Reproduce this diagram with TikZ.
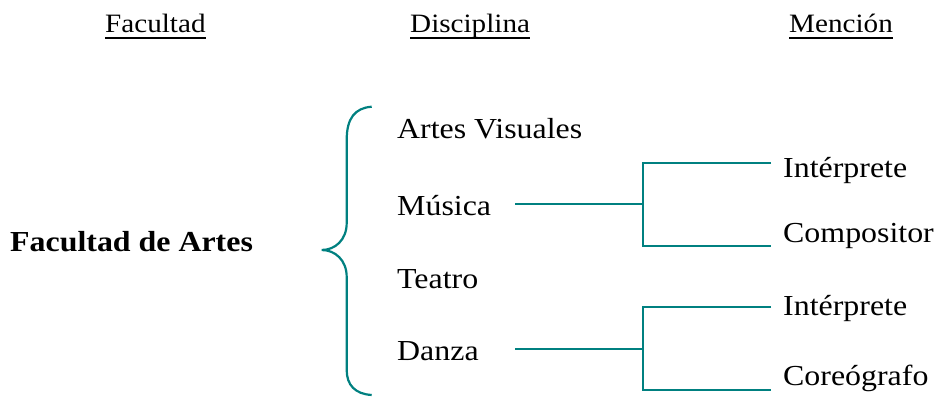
\documentclass[tikz,border=0pt]{standalone}
\usepackage{fontspec}
\setmainfont{Liberation Serif}[FakeStretch=1.1]
\definecolor{tealc}{RGB}{0,128,128}
\begin{document}
\begin{tikzpicture}[x=1pt,y=-1pt,
  lbl/.style={anchor=base west,inner sep=0pt,font=\fontsize{29}{34}\selectfont},
  hdr/.style={anchor=base west,inner sep=0pt,font=\fontsize{26.5}{31}\selectfont},
  conn/.style={draw=tealc,line width=2.6pt},
  brace/.style={draw=tealc,line width=2.2pt}]
\useasboundingbox (0,0) rectangle (938,404);
% headers
\node[hdr] (h1) at (105,33) {Facultad};
\node[hdr] (h2) at (410,33) {Disciplina};
\node[hdr] (h3) at (789,33) {Mención};
\foreach \h in {h1,h2,h3}
  \draw[line width=1.7pt] ([yshift=-5pt]\h.base west) -- ([yshift=-5pt]\h.base east);
% faculty
\node[lbl,font=\fontsize{29}{34}\selectfont\bfseries] (fac) at (10,251.5) {Facultad de Artes};
% disciplines
\node[lbl] (av) at (397,139) {Artes Visuales};
\node[lbl] (mus) at (397,215) {Música};
\node[lbl] (tea) at (397,288) {Teatro};
\node[lbl] (dan) at (397,360) {Danza};
% mentions
\node[lbl] (i1) at (783,177) {Intérprete};
\node[lbl] (co) at (783,242) {Compositor};
\node[lbl] (i2) at (783,315) {Intérprete};
\node[lbl] (cg) at (783,385) {Coreógrafo};
% brace
\draw[brace] (371.7,106.7) .. controls (355,108) and (346.7,118) .. (346.7,140)
  -- (346.7,223) .. controls (346.7,240) and (335,250) .. (321.7,250)
  .. controls (335,250) and (346.7,260) .. (346.7,277)
  -- (346.7,370) .. controls (346.7,385) and (355,394) .. (371.7,395);
% connectors
\coordinate (m0) at (515,204);
\coordinate (mj) at (643,204);
\coordinate (mi1) at (771,163);
\coordinate (mco) at (771,246);
\coordinate (d0) at (515,349);
\coordinate (dj) at (643,349);
\coordinate (di2) at (771,307);
\coordinate (dcg) at (771,390);
\draw[conn] (m0) -- (mj);
\draw[conn,line width=2.2pt] (mi1) -| (mj |- mco) -- (mco);
\draw[conn] (d0) -- (dj);
\draw[conn,line width=2.2pt] (di2) -| (dj |- dcg) -- (dcg);
\end{tikzpicture}
\end{document}
